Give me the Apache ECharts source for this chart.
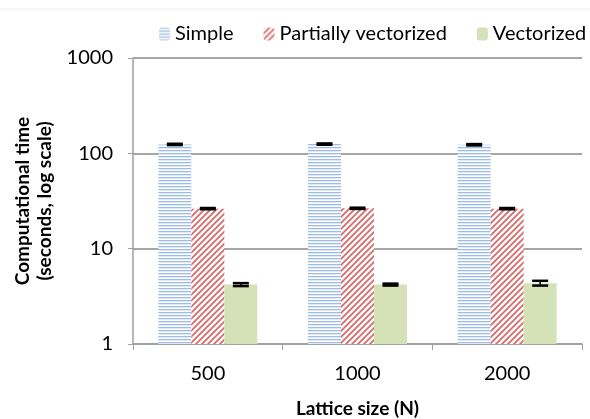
<!DOCTYPE html>
<html>
<head>
<meta charset="utf-8">
<script src="https://cdn.jsdelivr.net/npm/echarts@6/dist/echarts.min.js"></script>
<style>
  html, body { margin: 0; padding: 0; background: #fff; }
  #chart { width: 590px; height: 419px; }
</style>
</head>
<body>
<div id="chart"></div>
<script>
// data
const categories = ['500', '1000', '2000']
const seriesNames = ['Simple', 'Partially vectorized', 'Vectorized']
const simpleTime = [124, 125, 123]
const partialTime = [26.3, 26.5, 26.3]
const vectorTime = [4.2, 4.2, 4.35]
const simpleErr = [2, 2, 2]
const partialErr = [0.4, 0.4, 0.4]
const vectorErr = [0.15, 0.1, 0.25]

const font = 'Lato, "Open Sans", sans-serif'

// fill patterns
function hlines() {
  const c = document.createElement('canvas')
  c.width = 4; c.height = 3
  const g = c.getContext('2d')
  g.fillStyle = '#fff'; g.fillRect(0, 0, 4, 3)
  g.fillStyle = '#9dbde6'; g.fillRect(0, 0, 4, 1.3)
  return c
}
function diag() {
  const s = 6
  const c = document.createElement('canvas')
  c.width = s; c.height = s
  const g = c.getContext('2d')
  g.fillStyle = '#fff'; g.fillRect(0, 0, s, s)
  g.strokeStyle = '#da6b6a'; g.lineWidth = 1.8
  g.beginPath()
  g.moveTo(0, s); g.lineTo(s, 0)
  g.moveTo(-1, 1); g.lineTo(1, -1)
  g.moveTo(s - 1, s + 1); g.lineTo(s + 1, s - 1)
  g.stroke()
  return c
}
const fills = [
  { image: hlines(), repeat: 'repeat' },
  { image: diag(), repeat: 'repeat' },
  '#d5e2b8'
]

const barW = 33
const values = [simpleTime, partialTime, vectorTime]
const errs = [simpleErr, partialErr, vectorErr]

function errorSeries(idx) {
  const offset = (idx - 1) * barW
  return {
    type: 'custom',
    name: seriesNames[idx] + ' err',
    data: values[idx].map((v, i) => [i, v, v - errs[idx][i], v + errs[idx][i]]),
    z: 10,
    tooltip: { show: false },
    renderItem(params, api) {
      const lo = api.coord([api.value(0), api.value(2)])
      const hi = api.coord([api.value(0), api.value(3)])
      const x = lo[0] + offset
      const half = 8
      const cap = { stroke: '#000', lineWidth: 2.5 }
      return {
        type: 'group',
        children: [
          { type: 'line', shape: { x1: x, y1: lo[1], x2: x, y2: hi[1] }, style: { stroke: '#000', lineWidth: 1.5 } },
          { type: 'line', shape: { x1: x - half, y1: lo[1], x2: x + half, y2: lo[1] }, style: cap },
          { type: 'line', shape: { x1: x - half, y1: hi[1], x2: x + half, y2: hi[1] }, style: cap }
        ]
      }
    }
  }
}

const chart = echarts.init(document.getElementById('chart'))
chart.setOption({
  animation: false,
  textStyle: { fontFamily: font },
  graphic: [{
    type: 'line',
    shape: { x1: 0, y1: 9, x2: 590, y2: 9 },
    style: { stroke: '#ececec', lineWidth: 1 }
  }],
  legend: {
    top: 24,
    left: 159,
    width: 430,
    padding: 0,
    itemWidth: 11,
    itemHeight: 13,
    itemGap: 30,
    textStyle: { fontSize: 20, color: '#000', fontFamily: font },
    data: seriesNames
  },
  grid: { left: 133, right: 8, top: 58, bottom: 75, outerBoundsMode: 'none' },
  xAxis: {
    type: 'category',
    data: categories,
    axisLine: { lineStyle: { color: '#a0a0a0', width: 1.5 } },
    axisTick: { show: true, length: 6, lineStyle: { color: '#a0a0a0' } },
    axisLabel: { fontSize: 20, color: '#000', margin: 20 },
    name: 'Lattice size (N)',
    nameLocation: 'middle',
    nameGap: 55,
    nameTextStyle: { fontSize: 19, fontWeight: 'bold', color: '#000' }
  },
  yAxis: {
    type: 'log',
    logBase: 10,
    min: 1,
    max: 1000,
    axisLine: { show: true, lineStyle: { color: '#a0a0a0', width: 1.5 } },
    axisTick: { show: true, length: 5, lineStyle: { color: '#a0a0a0' } },
    axisLabel: { fontSize: 20, color: '#000', margin: 20, formatter: v => String(v) },
    splitLine: { lineStyle: { color: '#a6a6a6', width: 2 } },
    name: 'Computational time\n(seconds, log scale)',
    nameLocation: 'middle',
    nameGap: 72,
    nameTextStyle: { fontSize: 19, fontWeight: 'bold', color: '#000', lineHeight: 22 }
  },
  series: [0, 1, 2].map(i => ({
    type: 'bar',
    name: seriesNames[i],
    data: values[i],
    barWidth: barW,
    barGap: '0%',
    itemStyle: { color: fills[i] }
  })).concat([0, 1, 2].map(errorSeries))
})
</script>
</body>
</html>
